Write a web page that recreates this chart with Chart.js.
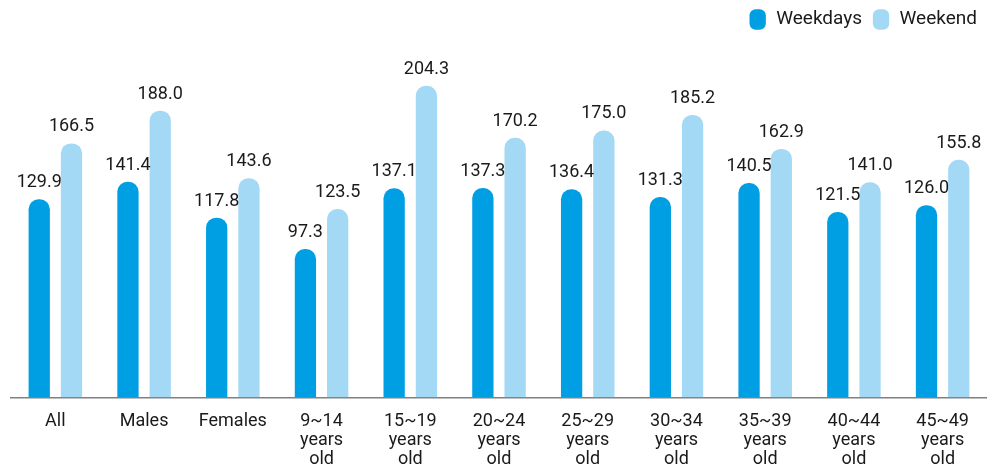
<!DOCTYPE html>
<html>
<head>
<meta charset="utf-8">
<script src="https://cdn.jsdelivr.net/npm/chart.js@4/dist/chart.umd.min.js"></script>
<style>
  html, body { margin: 0; padding: 0; background: #fff; }
  #wrap { width: 987px; height: 476px; position: relative; }
</style>
</head>
<body>
<div id="wrap"><canvas id="chart"></canvas></div>
<script>
/* ── data ── */
const categories = [
  'All', 'Males', 'Females',
  ['9~14', 'years', 'old'], ['15~19', 'years', 'old'], ['20~24', 'years', 'old'],
  ['25~29', 'years', 'old'], ['30~34', 'years', 'old'], ['35~39', 'years', 'old'],
  ['40~44', 'years', 'old'], ['45~49', 'years', 'old']
];
const weekdays = [129.9, 141.4, 117.8, 97.3, 137.1, 137.3, 136.4, 131.3, 140.5, 121.5, 126.0];
const weekend = [166.5, 188.0, 143.6, 123.5, 204.3, 170.2, 175.0, 185.2, 162.9, 141.0, 155.8];

const COLORS = {
  weekdays: '#009fe3',
  weekend: '#a3d9f5',
  text: '#1a1a1a',
  axis: '#808080'
};
const FONT = "Roboto, 'Noto Sans', sans-serif";

/* ── 막대 위 값 라벨 ── */
const valueLabels = {
  id: 'valueLabels',
  afterDatasetsDraw(chart) {
    const ctx = chart.ctx;
    ctx.save();
    ctx.font = '18px ' + FONT;
    ctx.fillStyle = COLORS.text;
    ctx.textAlign = 'center';
    ctx.textBaseline = 'alphabetic';
    chart.data.datasets.forEach((ds, i) => {
      chart.getDatasetMeta(i).data.forEach((bar, j) => {
        ctx.fillText(ds.data[j].toFixed(1), bar.x, bar.y - 12);
      });
    });
    ctx.restore();
  }
};

new Chart(document.getElementById('chart'), {
  type: 'bar',
  data: {
    labels: categories,
    datasets: [
      { label: 'Weekdays', data: weekdays, backgroundColor: COLORS.weekdays },
      { label: 'Weekend', data: weekend, backgroundColor: COLORS.weekend }
    ]
  },
  options: {
    responsive: true,
    maintainAspectRatio: false,
    animation: false,
    layout: { padding: { left: 11, right: 0, top: 0, bottom: 0 } },
    datasets: {
      bar: {
        categoryPercentage: 0.727,
        barPercentage: 0.66,
        borderRadius: 10,
        borderSkipped: 'start'
      }
    },
    scales: {
      x: {
        grid: { display: false },
        border: { display: true, color: COLORS.axis, width: 1.5 },
        ticks: {
          color: COLORS.text,
          font: { family: FONT, size: 18, lineHeight: 1.05 },
          maxRotation: 0,
          autoSkip: false,
          padding: 7
        }
      },
      y: {
        display: false,
        min: 0,
        max: 235
      }
    },
    plugins: {
      legend: {
        position: 'top',
        align: 'end',
        labels: {
          usePointStyle: true,
          pointStyle: 'rectRounded',
          pointStyleWidth: 18,
          boxHeight: 17,
          padding: 10,
          color: COLORS.text,
          font: { family: FONT, size: 19 }
        }
      },
      tooltip: { enabled: false }
    }
  },
  plugins: [valueLabels]
});
</script>
</body>
</html>
